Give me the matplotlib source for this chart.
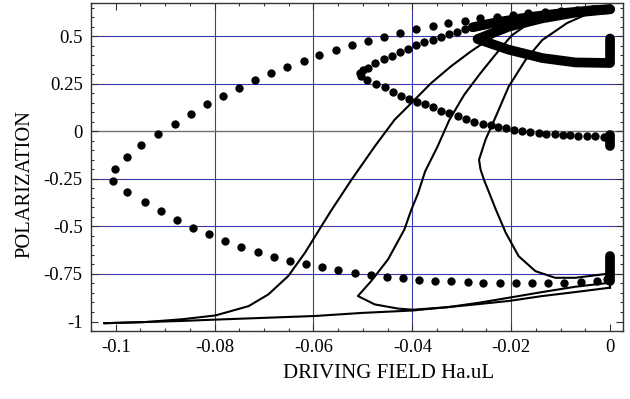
import numpy as np
import matplotlib
matplotlib.use('Agg')
import matplotlib.pyplot as plt

# ---- data ----
# outer loop, upper branch of dots (left turning point -> top right)
outer_up_x = [-0.1001, -0.0978, -0.0948, -0.0914, -0.0881, -0.0848, -0.0815, -0.0783, -0.0751,
              -0.0718, -0.0686, -0.0654, -0.0620, -0.0589, -0.0555, -0.0522, -0.0490, -0.0457,
              -0.0424, -0.0392, -0.0359, -0.0327, -0.0294, -0.0263, -0.0228, -0.0197, -0.0165,
              -0.0132, -0.0099, -0.0067, -0.0034, 0.0]
outer_up_y = [-0.196, -0.134, -0.073, -0.014, 0.040, 0.093, 0.142, 0.187, 0.229,
              0.270, 0.307, 0.340, 0.373, 0.403, 0.429, 0.455, 0.478, 0.499,
              0.517, 0.538, 0.555, 0.569, 0.581, 0.595, 0.604, 0.613, 0.622,
              0.627, 0.634, 0.639, 0.643, 0.643]

# outer loop, lower branch of dots (left turning point -> x = 0)
outer_low_x = [-0.1006, -0.0978, -0.0941, -0.0908, -0.0876, -0.0844, -0.0811, -0.0778, -0.0746,
               -0.0713, -0.0680, -0.0647, -0.0615, -0.0582, -0.0550, -0.0516, -0.0484, -0.0451,
               -0.0418, -0.0387, -0.0354, -0.0322, -0.0288, -0.0256, -0.0223, -0.0191, -0.0158,
               -0.0125, -0.0093, -0.0059, -0.0027, -0.0007]
outer_low_y = [-0.259, -0.318, -0.373, -0.420, -0.467, -0.507, -0.542, -0.577, -0.609,
               -0.635, -0.659, -0.682, -0.698, -0.714, -0.731, -0.747, -0.757, -0.766,
               -0.773, -0.780, -0.785, -0.789, -0.793, -0.796, -0.798, -0.799, -0.798,
               -0.798, -0.796, -0.793, -0.785, -0.778]

# inner loop of dots (x = 0 -> left turning point -> up towards top right)
inner_x = [-0.0013, -0.0030, -0.0047, -0.0064, -0.0080, -0.0096, -0.0112, -0.0129, -0.0144,
           -0.0161, -0.0178, -0.0195, -0.0210, -0.0226, -0.0241, -0.0257, -0.0275, -0.0292,
           -0.0308, -0.0325, -0.0342, -0.0358, -0.0374, -0.0390, -0.0406, -0.0423, -0.0439,
           -0.0456, -0.0473, -0.0491, -0.0503, -0.0505, -0.0500, -0.0490, -0.0476, -0.0458,
           -0.0441, -0.0424, -0.0408, -0.0392, -0.0376, -0.0359, -0.0342, -0.0325, -0.0310,
           -0.0294, -0.0278]
inner_y = [-0.029, -0.026, -0.026, -0.023, -0.021, -0.017, -0.014, -0.012, -0.008,
           -0.003, 0.004, 0.009, 0.018, 0.025, 0.034, 0.040, 0.052, 0.067,
           0.082, 0.097, 0.110, 0.128, 0.144, 0.157, 0.173, 0.187, 0.208,
           0.233, 0.247, 0.271, 0.292, 0.310, 0.324, 0.336, 0.359, 0.380,
           0.398, 0.417, 0.435, 0.454, 0.470, 0.483, 0.497, 0.512, 0.524,
           0.538, 0.548]

# densely packed dots (they print as solid bands)
top_band_x = [-0.0278, -0.0228, -0.0165, -0.0099, -0.0034, 0.0]
top_band_y = [0.548, 0.575, 0.601, 0.622, 0.638, 0.643]
wedge_x = [0.0, -0.0070, -0.0137, -0.0205, -0.0268, -0.0205, -0.0137, -0.0070, 0.0, 0.0]
wedge_y = [0.643, 0.625, 0.595, 0.551, 0.486, 0.430, 0.386, 0.363, 0.360, 0.489]
stack_mid_y = [-0.017, -0.079]
stack_low_y = [-0.656, -0.787]

# solid curves
bottom_x = [-0.1023, -0.0865, -0.0798, -0.0597, -0.0503, -0.0399, -0.0272, -0.0205, -0.0137,
            -0.0070, 0.0]
bottom_y = [-1.009, -0.997, -0.990, -0.971, -0.955, -0.942, -0.910, -0.892, -0.866,
            -0.845, -0.822]

curve_a_x = [-0.1023, -0.0940, -0.0865, -0.0798, -0.0731, -0.0691, -0.0651, -0.0617, -0.0584,
             -0.0563, -0.0523, -0.0476, -0.0436, -0.0399, -0.0362, -0.0322, -0.0282, -0.0262,
             -0.0205, -0.0137, -0.0070, 0.0]
curve_a_y = [-1.009, -1.003, -0.988, -0.968, -0.919, -0.857, -0.761, -0.638, -0.499,
             -0.412, -0.254, -0.079, 0.061, 0.157, 0.254, 0.342, 0.420, 0.455,
             0.551, 0.595, 0.625, 0.643]

curve_b_x = [0.0, -0.0070, -0.0137, -0.0205, -0.0262, -0.0329, -0.0399, -0.0429, -0.0476,
             -0.0510, -0.0483, -0.0449, -0.0416, -0.0402, -0.0389, -0.0374, -0.0349, -0.0325,
             -0.0295, -0.0262, -0.0230, -0.0199, -0.0164, -0.0117, -0.0070, 0.0]
curve_b_y = [-0.796, -0.817, -0.845, -0.875, -0.900, -0.925, -0.938, -0.932, -0.910,
             -0.866, -0.787, -0.673, -0.516, -0.412, -0.330, -0.210, -0.080, 0.061,
             0.193, 0.307, 0.410, 0.505, 0.569, 0.612, 0.635, 0.643]

curve_c_x = [0.0, -0.0040, -0.0087, -0.0137, -0.0171, -0.0205, -0.0231, -0.0252, -0.0265,
             -0.0262, -0.0255, -0.0231, -0.0211, -0.0185, -0.0151, -0.0111, -0.0070, -0.0030,
             0.0, 0.0]
curve_c_y = [0.643, 0.625, 0.570, 0.481, 0.376, 0.236, 0.079, -0.044, -0.149,
             -0.200, -0.254, -0.411, -0.533, -0.656, -0.735, -0.770, -0.770, -0.757,
             -0.747, -0.822]

xticks = [-0.1, -0.08, -0.06, -0.04, -0.02, 0]
xticklabels = ['-0.1', '-0.08', '-0.06', '-0.04', '-0.02', '0']
yticks = [-1, -0.75, -0.5, -0.25, 0, 0.25, 0.5]
yticklabels = ['-1', '-0.75', '-0.5', '-0.25', '0', '0.25', '0.5']
grid_x = [-0.08, -0.06, -0.04, -0.02]
grid_y = [-0.75, -0.5, -0.25, 0.25, 0.5]

plt.rcParams['font.family'] = ['Liberation Serif', 'DejaVu Serif']

fig = plt.figure(figsize=(6.3, 3.99), dpi=100)
ax = fig.add_axes([0.1444, 0.1704, 0.8440, 0.8228])

grid_color = '#3a3ab0'
for gx in grid_x:
    ax.axvline(gx, color=grid_color, lw=0.8, zorder=1)
for gy in grid_y:
    ax.axhline(gy, color=grid_color, lw=0.8, zorder=1)
ax.axhline(0, color='#707070', lw=1.0, zorder=1)

dot = 6.0
band = 7.0
ax.plot(outer_up_x, outer_up_y, 'o', color='black', ms=dot, mec='none', zorder=3)
ax.plot(outer_low_x, outer_low_y, 'o', color='black', ms=dot, mec='none', zorder=3)
ax.plot(inner_x, inner_y, 'o', color='black', ms=dot, mec='none', zorder=3)
for bx, by in [(top_band_x, top_band_y), (wedge_x, wedge_y),
               ([0, 0], stack_mid_y), ([0, 0], stack_low_y)]:
    ax.plot(bx, by, '-', color='black', lw=band, solid_capstyle='round',
            solid_joinstyle='round', zorder=3)

for cx, cy in [(bottom_x, bottom_y), (curve_a_x, curve_a_y),
               (curve_b_x, curve_b_y), (curve_c_x, curve_c_y)]:
    ax.plot(cx, cy, '-', color='black', lw=1.5, zorder=4)

ax.set_xlim(-0.10443, 0.00256)
ax.set_ylim(-1.0462, 0.6772)
ax.set_xticks(xticks)
ax.set_xticklabels(xticklabels)
ax.set_yticks(yticks)
ax.set_yticklabels(yticklabels)
ax.set_xticks(np.arange(-0.105, 0.0026, 0.005), minor=True)
ax.set_yticks(np.arange(-1.05, 0.68, 0.05), minor=True)
ax.tick_params(which='both', direction='in', top=True, right=True, width=0.8, colors='#333333',
               labelcolor='black', labelsize=13.4, pad=6)
ax.tick_params(which='major', length=5)
ax.tick_params(which='minor', length=2.5)
for s in ax.spines.values():
    s.set_linewidth(1.0)
    s.set_color('#333333')

ax.set_xlabel('DRIVING FIELD Ha.uL', fontsize=15, va='center')
ax.xaxis.set_label_coords(0.5595, -0.128)
ax.set_ylabel('POLARIZATION', fontsize=14.8, va='center')
ax.yaxis.set_label_coords(-0.125, 0.448)

fig.savefig('out.png', dpi=100)
